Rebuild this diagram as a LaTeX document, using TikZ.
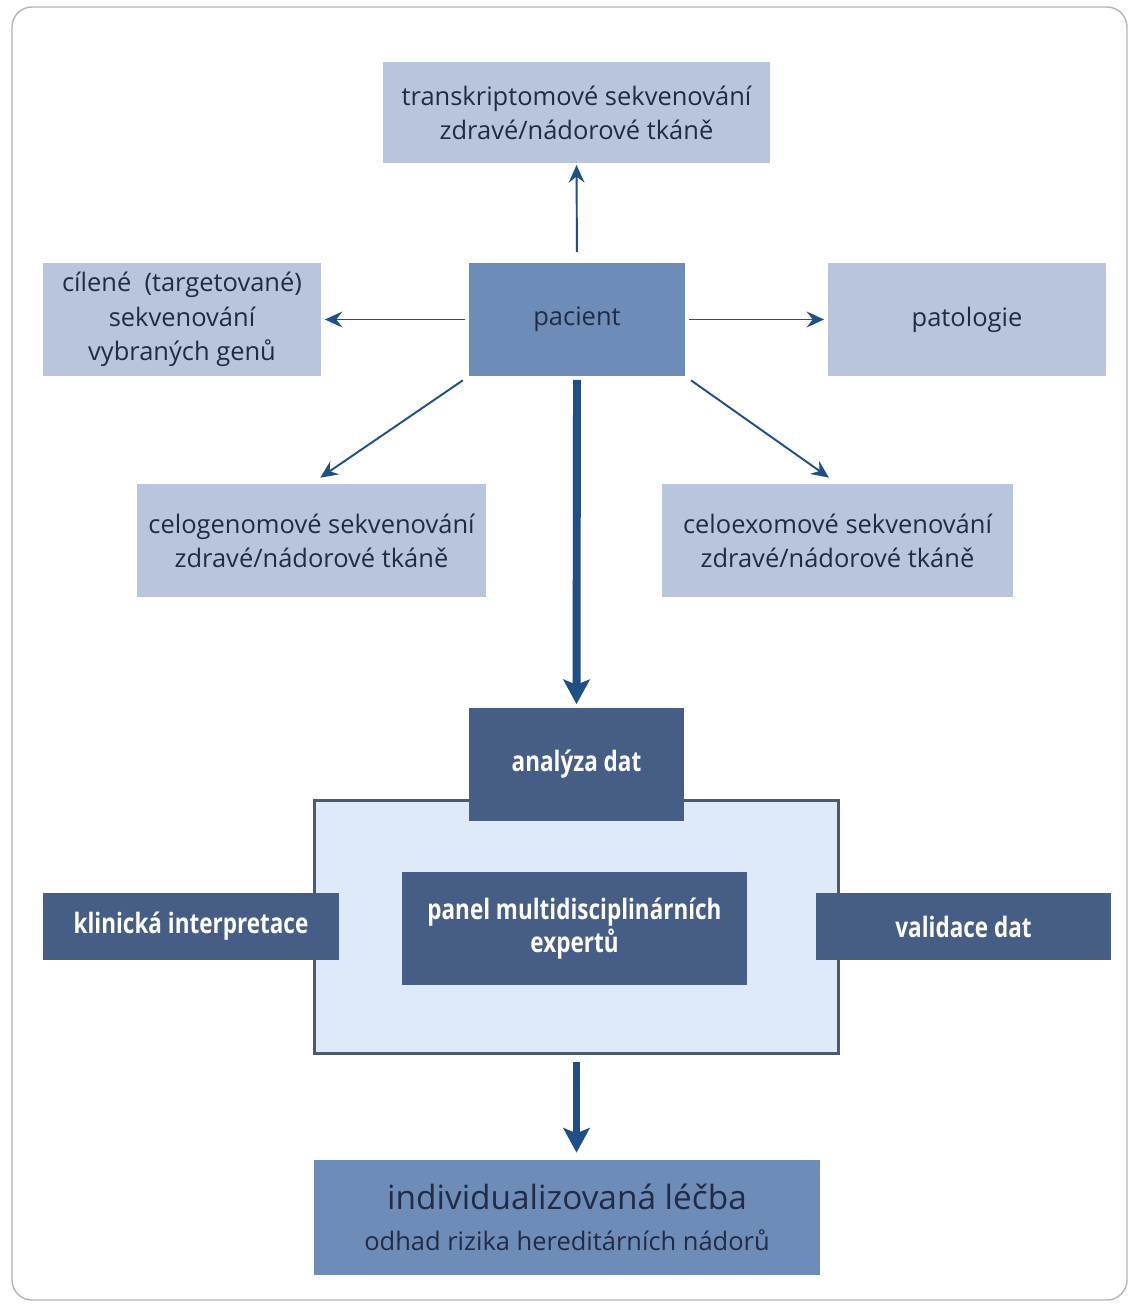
\documentclass[tikz,border=0pt]{standalone}
\usepackage{fontspec}
\setmainfont{Open Sans}
\newfontfamily\narrowfont[FakeStretch=0.8]{Open Sans}
\usetikzlibrary{arrows.meta}
\definecolor{boxlight}{HTML}{B9C4DD}
\definecolor{boxmid}{HTML}{6E8CB8}
\definecolor{boxdark}{HTML}{465D86}
\definecolor{panelfill}{HTML}{DEEAF8}
\definecolor{panelline}{HTML}{4B5A6E}
\definecolor{arrowblue}{HTML}{1E4F85}
\definecolor{textnavy}{HTML}{222B45}
\definecolor{framegray}{HTML}{B4B4B4}

\begin{document}
\begin{tikzpicture}[x=0.02cm, y=-0.02cm,
  lightbox/.style={fill=boxlight, text=textnavy, align=center, inner sep=0pt,
    font=\fontsize{14.5}{19.5}\selectfont, minimum height=2.26cm},
  midbox/.style={fill=boxmid, text=textnavy, align=center, inner sep=0pt,
    font=\fontsize{14.5}{19.5}\selectfont},
  darkbox/.style={fill=boxdark, text=white, align=center, inner sep=0pt,
    font=\narrowfont\bfseries\fontsize{16}{19}\selectfont},
  thinarr/.style={draw=arrowblue, line width=1.1pt, -{Stealth[length=10pt, width=9pt, inset=3.5pt]}},
  thickarr/.style={draw=arrowblue, line width=4.5pt, -{Stealth[length=14pt, width=15pt, inset=3pt]}}]
  \useasboundingbox (0,0) rectangle (1131,1307);
  \draw[framegray, line width=0.8pt, rounded corners=0.4cm] (12,7) rectangle (1127,1300);
  % upper part: patient and the kinds of sequencing
  \node[lightbox, minimum width=7.74cm, minimum height=2.02cm] (trans) at (576.5,112.5) {transkriptomové sekvenování\\zdravé/nádorové tkáně};
  \node[midbox, minimum width=4.32cm, minimum height=2.26cm] (pacient) at (577,319.5) {pacient};
  \node[lightbox, minimum width=5.56cm] (cilene) at (182,319.5) {cílené\ \ (targetované)\\sekvenování\\vybraných genů};
  \node[lightbox, minimum width=5.56cm] (patologie) at (967,319.5) {patologie};
  \node[lightbox, minimum width=6.98cm] (celog) at (311.5,540.5) {celogenomové sekvenování\\zdravé/nádorové tkáně};
  \node[lightbox, minimum width=7.02cm] (celoex) at (837.5,540.5) {celoexomové sekvenování\\zdravé/nádorové tkáně};
  % lower part: panel
  \node[draw=panelline, line width=1.7pt, fill=panelfill, minimum width=10.5cm, minimum height=5.08cm] (panel) at (576.5,927) {};
  \node[darkbox, minimum width=4.30cm, minimum height=2.26cm] (analyza) at (576.5,764.5) {analýza dat};
  \node[darkbox, minimum width=6.9cm, minimum height=2.26cm] (experti) at (574.5,928.5) {panel multidisciplinárních\\expertů};
  \node[darkbox, minimum width=5.92cm, minimum height=1.34cm] (klinicka) at (191,926.5) {klinická interpretace};
  \node[darkbox, minimum width=5.9cm, minimum height=1.34cm] (validace) at (963.5,926.5) {validace dat};
  \node[midbox, minimum width=10.12cm, minimum height=2.3cm] (lecba) at (567,1217.5) {{\fontsize{19}{26}\selectfont individualizovaná léčba}\\[4pt]odhad rizika hereditárních nádorů};
  % connectors
  \draw[thinarr, shorten <=6pt, shorten >=1pt] (pacient.north) -- (trans.south);
  \draw[thinarr, shorten <=2pt, shorten >=2pt] (pacient.west) -- (cilene.east);
  \draw[thinarr, shorten <=2pt, shorten >=2pt] (pacient.east) -- (patologie.west);
  \draw[thinarr, shorten <=4pt, shorten >=6pt] (pacient.south west) -- (celog.north);
  \draw[thinarr, shorten <=4pt, shorten >=6pt] (pacient.south east) -- (celoex.north);
  \draw[thickarr, shorten <=2pt, shorten >=2pt] (pacient.south) -- (analyza.north);
  \draw[thickarr, shorten <=3.5pt, shorten >=4pt] (panel.south) -- (lecba.north -| panel.south);
\end{tikzpicture}
\end{document}
